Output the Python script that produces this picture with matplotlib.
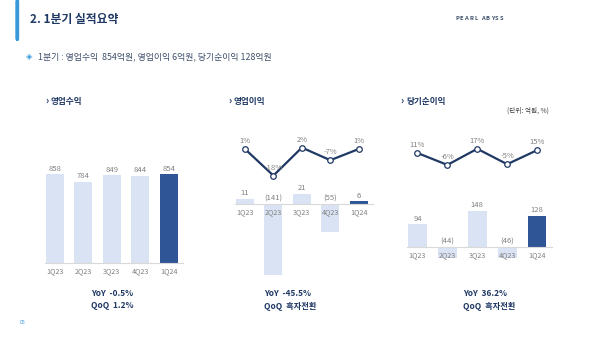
import matplotlib
matplotlib.use('Agg')
import matplotlib.pyplot as plt
from matplotlib.patches import FancyBboxPatch

plt.rcParams['font.family'] = ['Noto Sans CJK KR', 'DejaVu Sans']

quarters = ['1Q23', '2Q23', '3Q23', '4Q23', '1Q24']
revenue = [858, 784, 849, 844, 854]
op_profit = [11, -141, 21, -55, 6]
op_margin = [1, -18, 2, -7, 1]
net_income = [94, -44, 148, -46, 128]
net_margin = [11, -6, 17, -5, 15]

light = '#dae3f3'
dark = '#2f5597'
navy = '#1f3864'
gray = '#808080'

W, H = 600, 338
fig = plt.figure(figsize=(6, 3.38), dpi=100)
fig.patch.set_facecolor('white')


def px_axes(l, t, r, b):
    ax = fig.add_axes([l / W, 1 - b / H, (r - l) / W, (b - t) / H])
    ax.patch.set_alpha(0)
    return ax


def fmt(v):
    return '({})'.format(-v) if v < 0 else str(v)


def bar_panel(box, values, ylim):
    ax = px_axes(*box)
    x = range(len(values))
    colors = [light] * (len(values) - 1) + [dark]
    ax.bar(x, values, width=0.63, color=colors, zorder=1)
    ax.set_xlim(-0.35, 4.5)
    ax.set_ylim(*ylim)
    for s in ['top', 'right', 'left']:
        ax.spines[s].set_visible(False)
    ax.spines['bottom'].set_position(('data', 0))
    ax.spines['bottom'].set_color('#d9d9d9')
    ax.spines['bottom'].set_linewidth(0.8)
    ax.set_yticks([])
    ax.set_xticks(list(x))
    ax.set_xticklabels(quarters)
    ax.tick_params(axis='x', length=0, pad=3, labelsize=5.2, labelcolor=gray)
    for i, v in enumerate(values):
        ax.annotate(fmt(v), (i, max(v, 0)), xytext=(0, 1), textcoords='offset points',
                    ha='center', va='bottom', fontsize=5.5, color=gray)
    return ax


def line_panel(box, values, ylim):
    ax = px_axes(*box)
    ax.plot(range(len(values)), values, color=navy, lw=1.6, marker='o', ms=4,
            mfc='white', mec=navy, mew=0.9)
    ax.set_xlim(-0.35, 4.5)
    ax.set_ylim(*ylim)
    ax.axis('off')
    for i, v in enumerate(values):
        ax.annotate('{}%'.format(v), (i, v), xytext=(0, 2.8), textcoords='offset points',
                    ha='center', va='bottom', fontsize=5.5, color=gray)
    return ax


# header
fig.patches.append(FancyBboxPatch((16 / W, 1 - 40 / H), 2.5 / W, 40 / H,
                                  boxstyle='round,pad=0,rounding_size=0.004',
                                  transform=fig.transFigure, color='#3a9ad9'))
fig.text(30 / W, 1 - 20 / H, '2. 1분기 실적요약', fontsize=8.5, fontweight='bold',
         color=navy, va='center')
xp = 457
for ch in 'PEARL ABYSS':
    if ch == ' ':
        xp += 2.5
        continue
    fig.text(xp / W, 1 - 19 / H, ch, fontsize=4.2, fontweight='bold',
             color='#3d4f6b', va='center', ha='center')
    xp += 4.7
fig.text(26 / W, 1 - 57 / H, '◈', fontsize=6, color='#3a9ad9', va='center')
fig.text(38 / W, 1 - 57 / H, '1분기 : 영업수익  854억원, 영업이익 6억원, 당기순이익 128억원',
         fontsize=6.4, color='#3d4f6b', va='center')
fig.text(20 / W, 1 - 322 / H, '05', fontsize=3.8, color='#3a9ad9', va='center')

# panel titles
for xp, title in [(45, '영업수익'), (228, '영업이익'), (400, '당기순이익')]:
    fig.text(xp / W, 1 - 101 / H, '›', fontsize=7, color=navy, va='center', fontweight='bold')
    fig.text((xp + 6) / W, 1 - 101 / H, title, fontsize=6.2, color=navy, va='center',
             fontweight='bold')
fig.text(549 / W, 1 - 111 / H, '(단위: 억원, %)', fontsize=4.8, color='#404040',
         va='center', ha='right')

# panel 1: revenue
bar_panel((45, 150, 183, 263), revenue, (0, 1090))

# panel 2: operating profit
bar_panel((235, 185, 373, 280), op_profit, (-152, 38))
line_panel((235, 120, 373, 185), op_margin, (-24.7, 21.7))

# panel 3: net income
bar_panel((407, 190, 552, 270), net_income, (-94, 233))
line_panel((407, 125, 552, 185), net_margin, (-34.7, 51))

# YoY / QoQ
for xp, yoy, qoq in [(91, '-0.5%', '1.2%'), (264, '-45.5%', '흑자전환'), (463, '36.2%', '흑자전환')]:
    fig.text(xp / W, 1 - 293 / H, 'YoY  ' + yoy, fontsize=6, color=navy, fontweight='bold',
             va='center')
    fig.text(xp / W, 1 - 306 / H, 'QoQ  ' + qoq, fontsize=6, color=navy, fontweight='bold',
             va='center')

fig.savefig('out.png', dpi=100)
